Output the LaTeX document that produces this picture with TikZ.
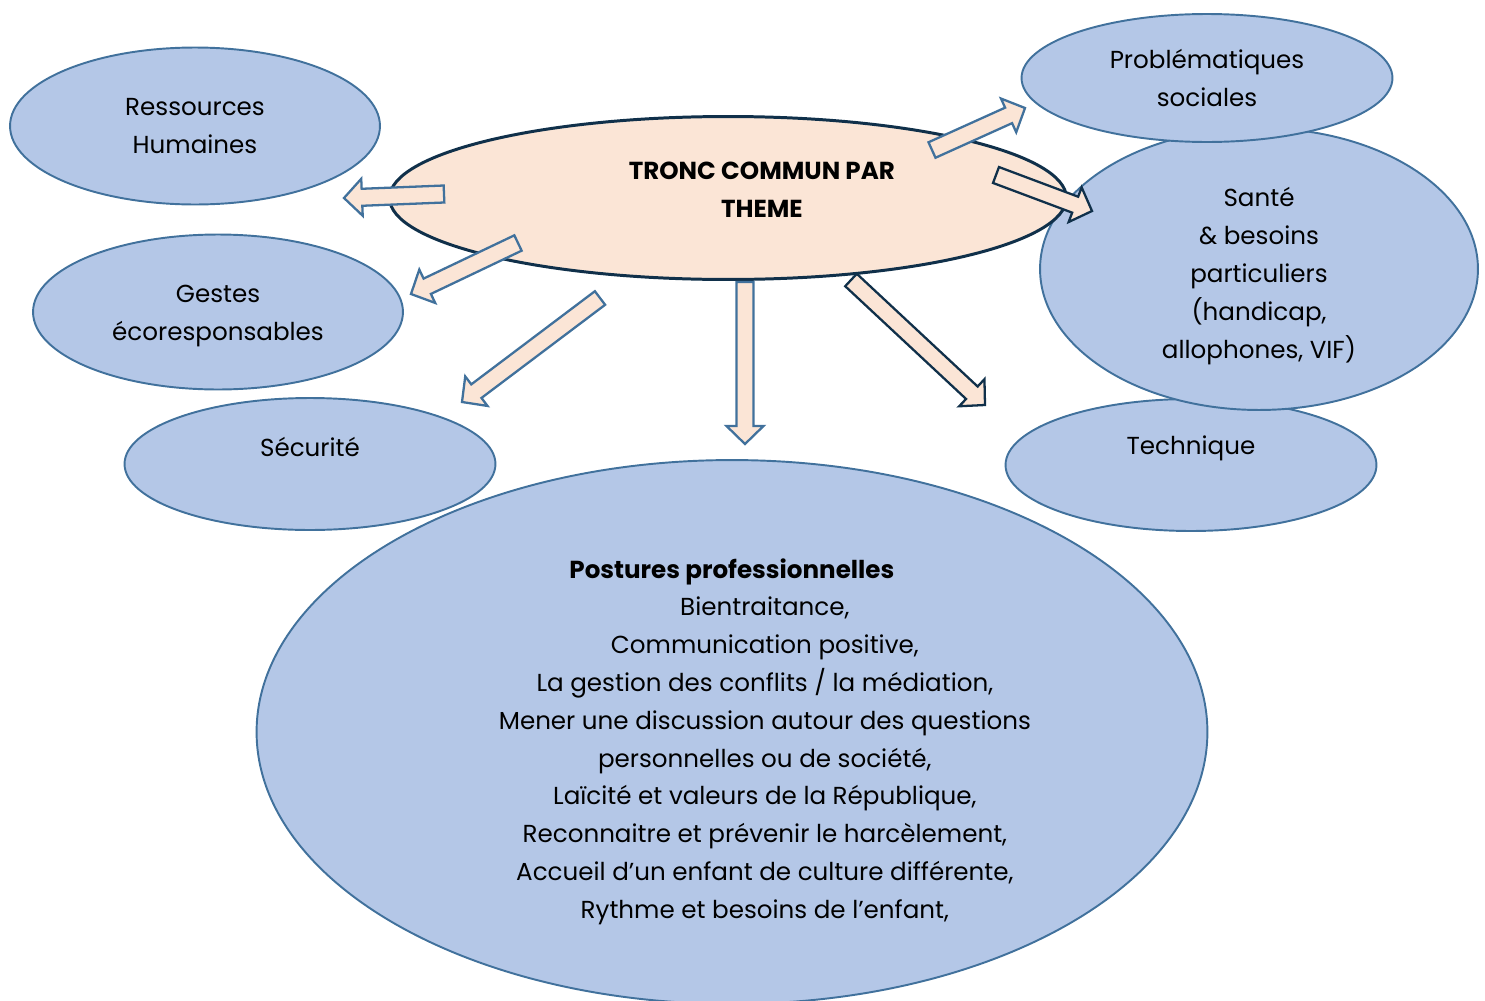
\documentclass[tikz,border=0pt]{standalone}
\usepackage{fontspec}
\setmainfont{Poppins}
\usetikzlibrary{shapes.geometric,calc}
\definecolor{bubbleBlue}{HTML}{B4C7E7}
\definecolor{bubbleEdge}{HTML}{41719C}
\definecolor{hubPeach}{HTML}{FBE5D6}
\definecolor{hubNavy}{HTML}{10304A}

% block arrow from tail (#2) to tip (#3)
\newcommand{\blockarrow}[3][]{%
  \coordinate (hb) at ($(#3)!0.36cm!(#2)$);
  \draw[barrow,#1] ($(#2)!0.17cm!90:(#3)$) -- ($(hb)!0.17cm!90:(#3)$)
    -- ($(hb)!0.37cm!90:(#3)$) -- (#3) -- ($(hb)!0.37cm!-90:(#3)$)
    -- ($(hb)!0.17cm!-90:(#3)$) -- ($(#2)!0.17cm!-90:(#3)$) -- cycle;}

\begin{document}
\begin{tikzpicture}[
    x=0.02cm, y=-0.02cm,
    every node/.style={font=\fontsize{14pt}{21.5pt}\selectfont},
    bubble/.style={ellipse, draw=bubbleEdge, fill=bubbleBlue, line width=1.1pt,
                   inner sep=0pt, align=center},
    hub/.style={ellipse, draw=hubNavy, fill=hubPeach, line width=1.7pt,
                inner sep=0pt},
    lbl/.style={align=center, inner sep=0pt},
    barrow/.style={draw=bubbleEdge, fill=hubPeach, line width=1.3pt, line join=miter},
    darrow/.style={draw=hubNavy},
  ]
  \useasboundingbox (0,0) rectangle (1485,1001);

  % Theme bubbles
  \node[bubble, minimum width=7.42cm, minimum height=2.64cm,
        label={[lbl, yshift=9.6pt]center:Technique}] (te) at (1191,465) {};
  \node[bubble, minimum width=8.76cm, minimum height=5.64cm,
        label={[lbl, yshift=-4pt]center:{Santé\\\& besoins\\particuliers\\(handicap,\\allophones, VIF)}}]
    (sb) at (1259,269) {};
  \node[bubble, minimum width=7.42cm, minimum height=2.56cm] (ps) at (1207,78)
    {Problématiques\\sociales};
  \node[bubble, minimum width=7.4cm, minimum height=3.14cm] (rh) at (195,126)
    {Ressources\\Humaines};
  \node[bubble, minimum width=7.4cm, minimum height=3.1cm,
        label={[lbl, yshift=-2.5pt]center:{Gestes\\écoresponsables}}] (ge) at (218,312) {};
  \node[bubble, minimum width=7.42cm, minimum height=2.64cm,
        label={[lbl, yshift=9.6pt]center:Sécurité}] (se) at (310,464) {};
  \node[bubble, minimum width=19.02cm, minimum height=10.88cm,
        label={[lbl, xshift=18.7pt, yshift=-5.4pt]center:{%
     \textbf{Postures professionnelles}\hspace*{1.32cm}\\
     Bientraitance,\\
     Communication positive,\\
     La gestion des conflits / la médiation,\\
     Mener une discussion autour des questions\\
     personnelles ou de société,\\
     Laïcité et valeurs de la République,\\
     Reconnaitre et prévenir le harcèlement,\\
     Accueil d’un enfant de culture différente,\\
     Rythme et besoins de l’enfant,}}] (pp) at (732,732) {};

  % Central ellipse
  \node[hub, minimum width=13.54cm, minimum height=3.26cm,
        label={[lbl, xshift=19.3pt, yshift=4.5pt]center:{\textbf{TRONC COMMUN PAR}\\\textbf{THEME}}}]
    (tc) at (728,198) {};

  % Arrow ends
  \coordinate (a-rh) at (444,194);  \coordinate (b-rh) at (344,198);
  \coordinate (a-ge) at (518,243);  \coordinate (b-ge) at (411,294);
  \coordinate (a-se) at (600,298);  \coordinate (b-se) at (462,402);
  \coordinate (a-pp) at (745,282);  \coordinate (b-pp) at (745,444);
  \coordinate (a-te) at (851,280);  \coordinate (b-te) at (985,405);
  \coordinate (a-ps) at (932,150);  \coordinate (b-ps) at (1025,108);
  \coordinate (a-sb) at (996,175);  \coordinate (b-sb) at (1092,211);

  % Arrows
  \blockarrow{a-rh}{b-rh}
  \blockarrow{a-ge}{b-ge}
  \blockarrow{a-se}{b-se}
  \blockarrow{a-pp}{b-pp}
  \blockarrow[darrow]{a-te}{b-te}
  \blockarrow{a-ps}{b-ps}
  \blockarrow[darrow]{a-sb}{b-sb}
\end{tikzpicture}
\end{document}
